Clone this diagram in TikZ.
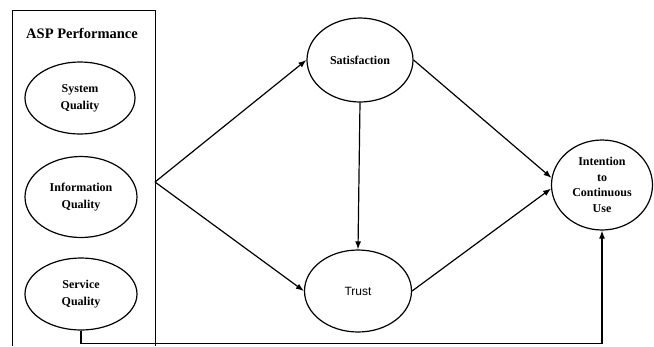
\documentclass[tikz,border=0pt]{standalone}
\usepackage{fontspec}
\setmainfont{Liberation Serif}
\newfontfamily\trustfont{Liberation Sans}
\usetikzlibrary{shapes.geometric,arrows.meta}
\begin{document}
\begin{tikzpicture}[x=1pt,y=-1pt,line width=1.2pt,construct/.style={shape=ellipse,draw=black,inner sep=0pt,align=center,font=\bfseries\fontsize{12}{17}\selectfont},arr/.style={-{Latex[length=8pt,width=6pt]}}]
\def\boxl{12};
\def\boxr{155};
\def\boxt{10};
\def\boxb{346};

\useasboundingbox (0,0) rectangle (654,346);

%ASP box (open at the bottom)
\draw[line width=0.9pt] (\boxl,\boxb) -- (\boxl,\boxt) -- (\boxr,\boxt) -- (\boxr,\boxb);
\node[font=\bfseries\fontsize{14.5}{17}\selectfont] (asp) at (82,33) {ASP Performance};

\node[construct,minimum width=110pt,minimum height=72pt] (sys) at (80,98) {System\\Quality};
\node[construct,minimum width=112pt,minimum height=81pt] (inf) at (81,197) {Information\\Quality};
\node[construct,minimum width=112pt,minimum height=72pt] (srv) at (81,294) {Service\\Quality};

\node[construct,minimum width=106pt,minimum height=84pt] (sat) at (360,60) {Satisfaction};
\node[construct,minimum width=107pt,minimum height=82pt,font=\trustfont\fontsize{12}{17}\selectfont] (tru) at (358,291) {Trust};
\node[construct,minimum width=101pt,minimum height=90pt,font=\bfseries\fontsize{12}{15.5}\selectfont] (int) at (602,185) {Intention\\to\\Continuous\\Use};

\coordinate (J) at (\boxr,182);
\draw[arr] (J) -- (sat.west);
\draw[arr] (J) -- (tru.west);
\draw[arr] (sat.south) -- (tru.north);
\draw[arr] (sat.east) -- (int.172);
\draw[arr] (tru.east) -- (int.184);
\draw[arr] (srv.south) -- ++(0,13) -| (int.south);
\end{tikzpicture}
\end{document}
